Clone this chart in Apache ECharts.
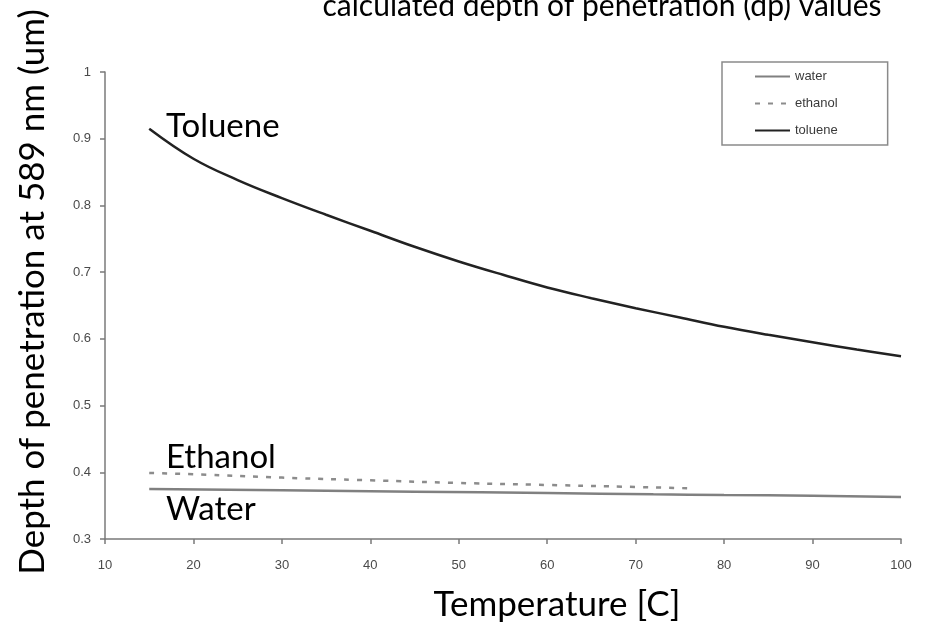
<!DOCTYPE html>
<html>
<head>
<meta charset="utf-8">
<script src="https://cdn.jsdelivr.net/npm/echarts@6/dist/echarts.min.js"></script>
<style>
  html, body { margin: 0; padding: 0; background: #fff; }
  #chart { width: 930px; height: 624px; }
</style>
</head>
<body>
<div id="chart"></div>
<script>
// Penetration depth of the evanescent field (589 nm) versus temperature
const waterTemp   = [15, 30, 45, 60, 72, 80, 90, 100];
const waterDepth  = [0.375, 0.373, 0.371, 0.369, 0.367, 0.366, 0.365, 0.363];

const ethanolTemp  = [15, 20, 30, 40, 50, 60, 70, 76];
const ethanolDepth = [0.399, 0.397, 0.392, 0.388, 0.384, 0.381, 0.378, 0.376];

const tolueneTemp  = [15, 20, 25, 30, 35, 40, 45, 50, 55, 60, 65, 70, 75, 80, 85, 90, 95, 100];
const tolueneDepth = [0.915, 0.870, 0.838, 0.811, 0.786, 0.762, 0.738, 0.716, 0.696, 0.677, 0.661, 0.646, 0.632, 0.618, 0.606, 0.595, 0.584, 0.574];

const xTicks = { min: 10, max: 100, step: 10 };
const yTicks = { min: 0.3, max: 1, step: 0.1 };

const pairs = (xs, ys) => xs.map((x, i) => [x, ys[i]]);

const labelFont = 'Lato, "Open Sans", sans-serif';
const tickFont = '"Liberation Sans", Arial, sans-serif';

const chart = echarts.init(document.getElementById('chart'), null, { renderer: 'canvas' });

chart.setOption({
  animation: false,
  backgroundColor: '#ffffff',
  grid: { left: 105, right: 29, top: 72, bottom: 85 },
  legend: {
    orient: 'vertical',
    left: 722,
    top: 62,
    padding: [8, 50, 8, 32],
    itemWidth: 35,
    itemHeight: 14,
    itemGap: 14,
    // legend samples show only the line stroke, no point marker
    itemStyle: { opacity: 0 },
    borderColor: '#8a8a8a',
    borderWidth: 1.5,
    textStyle: { fontFamily: tickFont, fontSize: 13, color: '#3a3a3a' },
    data: ['water', 'ethanol', 'toluene']
  },
  xAxis: {
    type: 'value',
    min: xTicks.min, max: xTicks.max, interval: xTicks.step,
    axisLine: { lineStyle: { color: '#7a7a7a', width: 1.5 } },
    axisTick: { length: 5, lineStyle: { color: '#7a7a7a', width: 1.5 } },
    axisLabel: { margin: 20, fontFamily: tickFont, fontSize: 13, color: '#4a4a4a' },
    splitLine: { show: false }
  },
  yAxis: {
    type: 'value',
    min: yTicks.min, max: yTicks.max, interval: yTicks.step,
    axisLine: { show: true, lineStyle: { color: '#7a7a7a', width: 1.5 } },
    axisTick: { show: true, length: 5, lineStyle: { color: '#7a7a7a', width: 1.5 } },
    axisLabel: {
      margin: 14, fontFamily: tickFont, fontSize: 13, color: '#4a4a4a',
      formatter: v => (Math.round(v * 10) / 10).toString()
    },
    splitLine: { show: false }
  },
  series: [
    {
      name: 'water', type: 'line', symbol: 'none', smooth: true,
      lineStyle: { color: '#808080', width: 2.5 },
      itemStyle: { color: '#808080' },
      data: pairs(waterTemp, waterDepth)
    },
    {
      name: 'ethanol', type: 'line', symbol: 'none', smooth: true,
      lineStyle: { color: '#8c8c8c', width: 2.5, type: [5, 8] },
      itemStyle: { color: '#8c8c8c' },
      data: pairs(ethanolTemp, ethanolDepth)
    },
    {
      name: 'toluene', type: 'line', symbol: 'none', smooth: 0.4,
      lineStyle: { color: '#222', width: 2.5 },
      itemStyle: { color: '#222' },
      data: pairs(tolueneTemp, tolueneDepth)
    }
  ],
  graphic: [
    {
      type: 'text', x: 602, y: 21,
      style: {
        text: 'calculated depth of penetration (dp) values',
        font: '30px ' + labelFont, fill: '#000',
        align: 'center', verticalAlign: 'bottom'
      }
    },
    {
      type: 'text', x: 33, y: 292, rotation: Math.PI / 2,
      style: {
        text: 'Depth of penetration at 589 nm (um)',
        font: '35px ' + labelFont, fill: '#000',
        align: 'center', verticalAlign: 'middle'
      }
    },
    {
      type: 'text', x: 557, y: 605,
      style: {
        text: 'Temperature [C]',
        font: '35px ' + labelFont, fill: '#000',
        align: 'center', verticalAlign: 'middle'
      }
    },
    {
      type: 'text', x: 166, y: 126,
      style: { text: 'Toluene', font: '33px ' + labelFont, fill: '#000', align: 'left', verticalAlign: 'middle' }
    },
    {
      type: 'text', x: 166, y: 457,
      style: { text: 'Ethanol', font: '33px ' + labelFont, fill: '#000', align: 'left', verticalAlign: 'middle' }
    },
    {
      type: 'text', x: 166, y: 509,
      style: { text: 'Water', font: '33px ' + labelFont, fill: '#000', align: 'left', verticalAlign: 'middle' }
    }
  ]
});
</script>
</body>
</html>
